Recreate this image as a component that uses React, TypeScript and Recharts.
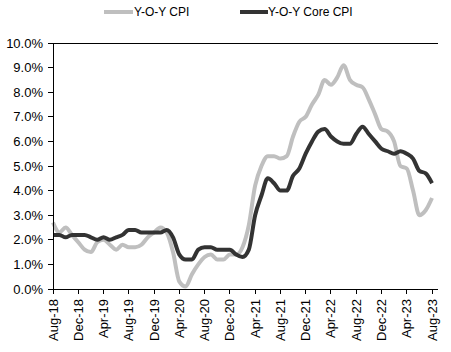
import React from "react";
import { LineChart, Line, XAxis, YAxis, CartesianGrid, Legend } from "recharts";

const months = [
  "Aug-18", "Sep-18", "Oct-18", "Nov-18", "Dec-18",
  "Jan-19", "Feb-19", "Mar-19", "Apr-19", "May-19", "Jun-19", "Jul-19", "Aug-19", "Sep-19", "Oct-19", "Nov-19", "Dec-19",
  "Jan-20", "Feb-20", "Mar-20", "Apr-20", "May-20", "Jun-20", "Jul-20", "Aug-20", "Sep-20", "Oct-20", "Nov-20", "Dec-20",
  "Jan-21", "Feb-21", "Mar-21", "Apr-21", "May-21", "Jun-21", "Jul-21", "Aug-21", "Sep-21", "Oct-21", "Nov-21", "Dec-21",
  "Jan-22", "Feb-22", "Mar-22", "Apr-22", "May-22", "Jun-22", "Jul-22", "Aug-22", "Sep-22", "Oct-22", "Nov-22", "Dec-22",
  "Jan-23", "Feb-23", "Mar-23", "Apr-23", "May-23", "Jun-23", "Jul-23", "Aug-23",
];

const cpi = [
  2.7, 2.3, 2.5, 2.2, 1.9,
  1.6, 1.5, 1.9, 2.0, 1.8, 1.6, 1.8, 1.7, 1.7, 1.8, 2.1, 2.3,
  2.5, 2.3, 1.5, 0.3, 0.1, 0.6, 1.0, 1.3, 1.4, 1.2, 1.2, 1.4,
  1.4, 1.7, 2.6, 4.2, 5.0, 5.4, 5.4, 5.3, 5.4, 6.2, 6.8, 7.0,
  7.5, 7.9, 8.5, 8.3, 8.6, 9.1, 8.5, 8.3, 8.2, 7.7, 7.1, 6.5,
  6.4, 6.0, 5.0, 4.9, 4.0, 3.0, 3.2, 3.7,
];

const coreCpi = [
  2.2, 2.2, 2.1, 2.2, 2.2,
  2.2, 2.1, 2.0, 2.1, 2.0, 2.1, 2.2, 2.4, 2.4, 2.3, 2.3, 2.3,
  2.3, 2.4, 2.1, 1.4, 1.2, 1.2, 1.6, 1.7, 1.7, 1.6, 1.6, 1.6,
  1.4, 1.3, 1.6, 3.0, 3.8, 4.5, 4.3, 4.0, 4.0, 4.6, 4.9, 5.5,
  6.0, 6.4, 6.5, 6.2, 6.0, 5.9, 5.9, 6.3, 6.6, 6.3, 6.0, 5.7,
  5.6, 5.5, 5.6, 5.5, 5.3, 4.8, 4.7, 4.3,
];

const yTicks = [0, 1, 2, 3, 4, 5, 6, 7, 8, 9, 10];

const data = months.map((m, i) => ({ month: m, cpi: cpi[i], core: coreCpi[i] }));

const FONT = "'Liberation Sans', Arial, sans-serif";
const CPI_COLOR = "#bfbfbf";
const CORE_COLOR = "#333333";

// keep the black grid/axis lines sharp like the spreadsheet original
const crisp = `
.recharts-cartesian-grid line,
.recharts-cartesian-axis-line,
.recharts-cartesian-axis-tick-line { shape-rendering: crispEdges; }
`;

const MonthTick = ({ x, y, payload }: any) => (
  <text
    transform={`translate(${x},${y + 3}) rotate(-90)`}
    textAnchor="end"
    dy="0.35em"
    fontSize={13}
    fontFamily={FONT}
    fill="#000"
  >
    {payload.value}
  </text>
);

const LegendContent = () => (
  <div style={{ position: "relative", height: 20, fontFamily: FONT, fontSize: 12, color: "#000" }}>
    <div style={{ position: "absolute", left: 104, top: 5, display: "flex", alignItems: "center" }}>
      <span style={{ display: "inline-block", width: 29, height: 4, background: CPI_COLOR }} />
      <span style={{ marginLeft: 1 }}>Y-O-Y CPI</span>
    </div>
    <div style={{ position: "absolute", left: 240, top: 5, display: "flex", alignItems: "center" }}>
      <span style={{ display: "inline-block", width: 28, height: 4, background: CORE_COLOR }} />
      <span>Y-O-Y Core CPI</span>
    </div>
  </div>
);

export default function App() {
  return (
    <div style={{ position: "absolute", left: 0, top: 0, background: "#fff" }}>
      <style>{crisp}</style>
      <LineChart width={451} height={352} data={data} margin={{ top: 23, right: 13, left: 0, bottom: 0 }}>
        <CartesianGrid vertical={false} stroke="#000" strokeWidth={1} />
        <Legend verticalAlign="top" content={<LegendContent />} wrapperStyle={{ top: 0, left: 0, width: 451 }} />
        <XAxis
          dataKey="month"
          interval={3}
          tick={<MonthTick />}
          height={63}
          padding={{ left: 0, right: 6 }}
          axisLine={{ stroke: "#000" }}
          tickLine={{ stroke: "#000" }}
          tickSize={5}
        />
        <YAxis
          yAxisId="left"
          domain={[0, 10]}
          ticks={yTicks}
          width={53}
          tickFormatter={(v: number) => `${v.toFixed(1)}%`}
          tick={{ fontSize: 13, fontFamily: FONT, fill: "#000" }}
          axisLine={{ stroke: "#000" }}
          tickLine={{ stroke: "#000" }}
          tickSize={5}
          tickMargin={5}
          interval={0}
        />
        <YAxis yAxisId="right" orientation="right" width={0} tick={false} axisLine={{ stroke: "#000" }} tickLine={false} domain={[0, 10]} />
        <Line
          yAxisId="left"
          type="monotone"
          dataKey="cpi"
          stroke={CPI_COLOR}
          strokeWidth={4}
          dot={false}
          isAnimationActive={false}
        />
        <Line
          yAxisId="left"
          type="monotone"
          dataKey="core"
          stroke={CORE_COLOR}
          strokeWidth={4}
          dot={false}
          isAnimationActive={false}
        />
      </LineChart>
    </div>
  );
}
